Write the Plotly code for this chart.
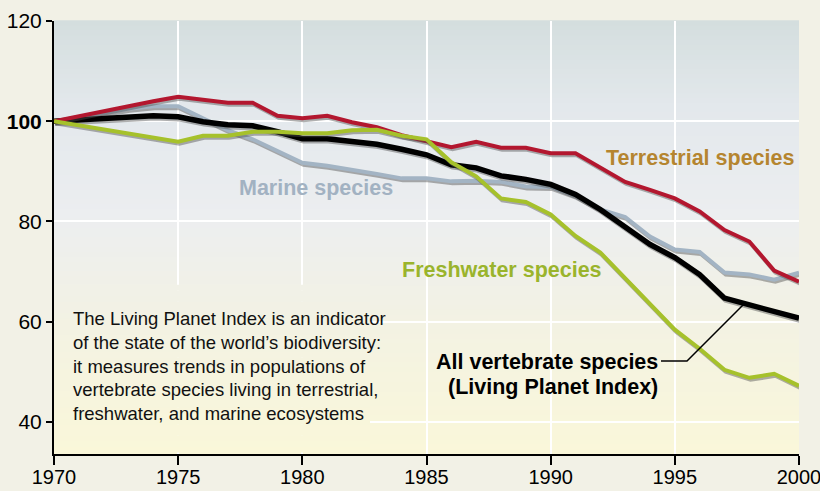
import plotly.graph_objects as go

years = list(range(1970, 2001))
terrestrial = [100, 101, 102, 103.2, 104, 104.9, 104.3, 103.7, 103.7, 101.1, 100.6, 101.1, 99.8, 98.8,
               97.2, 96.1, 94.8, 95.9, 94.7, 94.7, 93.6, 93.6, 90.7, 87.9, 86.3, 84.6, 82, 78.3, 76, 70.2, 68]
marine = [100, 100.8, 101.6, 102.5, 103, 103, 100.6, 98.2, 96.4, 94, 91.7, 91.1, 90.4, 89.5, 88.6,
          88.6, 88, 88.1, 87.9, 87, 86.9, 85.1, 82.4, 80.9, 77, 74.4, 73.9, 69.8, 69.4, 68.4, 69.8]
freshwater = [100, 99.2, 98.4, 97.5, 96.7, 95.9, 97.1, 97.1, 97.9, 97.9, 97.6, 97.6, 98.2, 98.3, 97.1,
              96.4, 91.8, 89, 84.6, 83.9, 81.4, 77.1, 73.8, 68.7, 63.5, 58.4, 54.6, 50.4, 48.8, 49.6, 47.2]
all_species = [100, 100.3, 100.5, 100.9, 101.1, 100.9, 99.9, 99.3, 99.1, 97.9, 96.5, 96.5, 95.9, 95.4,
               94.4, 93.3, 91.3, 90.7, 89.1, 88.4, 87.4, 85.4, 82.4, 79, 75.4, 72.8, 69.4, 64.7, 63.4, 62, 60.7]

x_ticks = [1970, 1975, 1980, 1985, 1990, 1995, 2000]
y_ticks = [40, 60, 80, 100, 120]
y_ticktext = ["40", "60", "80", "<b>100</b>", "120"]

info_lines = ["The Living Planet Index is an indicator",
              "of the state of the world\u2019s biodiversity:",
              "it measures trends in populations of",
              "vertebrate species living in terrestrial,",
              "freshwater, and marine ecosystems"]

FONT = "Liberation Sans, Arial, sans-serif"

W, H = 820, 491
ML, MR, MT, MB = 54, 21, 21, 37
X0, X1 = 1970, 2000
Y0, Y1 = 33.6, 120

def hex2rgb(h):
    h = h.lstrip('#')
    return tuple(int(h[i:i+2], 16) for i in (0, 2, 4))

stops = [(0.0, '#faf7d9'), (0.3, '#f3f2e3'), (0.55, '#eceef0'), (0.8, '#e3e8ec'), (1.0, '#d4dede')]

def grad(t):
    for (a, ca), (b, cb) in zip(stops[:-1], stops[1:]):
        if a <= t <= b:
            f = (t - a) / (b - a)
            r1, g1, b1 = hex2rgb(ca)
            r2, g2, b2 = hex2rgb(cb)
            return 'rgb(%d,%d,%d)' % (round(r1 + (r2 - r1) * f), round(g1 + (g2 - g1) * f), round(b1 + (b2 - b1) * f))
    return stops[-1][1]

def ydata(py):
    ph = H - MT - MB
    return Y1 - (py - MT) / ph * (Y1 - Y0)

def xdata(px):
    pw = W - ML - MR
    return X0 + (px - ML) / pw * (X1 - X0)

shapes = []
N = 90
for i in range(N):
    t0, t1 = i / N, (i + 1) / N
    shapes.append(dict(type='rect', xref='paper', yref='paper', x0=0, x1=1, y0=t0, y1=t1 + 0.002,
                       fillcolor=grad((t0 + t1) / 2), line=dict(width=0), layer='below'))

# info box background covering the gridlines
bx0, bx1 = X0 + 0.03, xdata(370)
by0, by1 = Y0 + 0.3, ydata(285)
NB = 30
for i in range(NB):
    v0 = by0 + (by1 - by0) * i / NB
    v1 = by0 + (by1 - by0) * (i + 1) / NB
    t = ((v0 + v1) / 2 - Y0) / (Y1 - Y0)
    shapes.append(dict(type='rect', xref='x', yref='y', x0=bx0, x1=bx1, y0=v0, y1=v1 + 0.05,
                       fillcolor=grad(t), line=dict(width=0), layer='between'))

# leader line
shapes.append(dict(type='path', xref='x', yref='y',
                   path='M %f,%f L %f,%f L %f,%f' % (xdata(661), ydata(361), xdata(687), ydata(361),
                                                    xdata(743), ydata(305)),
                   line=dict(color='black', width=1.5), layer='above'))

fig = go.Figure()

series = [
    ("Marine species", marine, '#a3b4c4', 4),
    ("All vertebrate species", all_species, '#000000', 5.5),
    ("Terrestrial species", terrestrial, '#b3172f', 4),
    ("Freshwater species", freshwater, '#a6c12b', 4),
]
dx = 1.2 * (X1 - X0) / (W - ML - MR)
dy = 2.0 * (Y1 - Y0) / (H - MT - MB)
for name, vals, col, w in series:
    fig.add_trace(go.Scatter(x=[v + dx for v in years], y=[v - dy for v in vals], mode='lines',
                             line=dict(color='rgba(80,80,80,0.45)', width=w), hoverinfo='skip',
                             showlegend=False, cliponaxis=False))
    fig.add_trace(go.Scatter(x=years, y=vals, mode='lines', name=name,
                             line=dict(color=col, width=w), showlegend=False, cliponaxis=False))

LBL = 21.5
annotations = [
    dict(text="<b>Terrestrial species</b>", x=xdata(796), y=ydata(158), xanchor='right', yanchor='middle',
         font=dict(size=LBL, color='#b5852f', family=FONT), showarrow=False),
    dict(text="<b>Marine species</b>", x=xdata(316), y=ydata(188), xanchor='center', yanchor='middle',
         font=dict(size=LBL, color='#a2b2c2', family=FONT), showarrow=False),
    dict(text="<b>Freshwater species</b>", x=xdata(400), y=ydata(270), xanchor='left', yanchor='middle',
         font=dict(size=LBL, color='#9ab42c', family=FONT), showarrow=False),
    dict(text="<b>All vertebrate species</b>", x=xdata(660), y=ydata(362), xanchor='right', yanchor='middle',
         font=dict(size=LBL, color='black', family=FONT), showarrow=False),
    dict(text="<b>(Living Planet Index)</b>", x=xdata(660), y=ydata(387), xanchor='right', yanchor='middle',
         font=dict(size=LBL, color='black', family=FONT), showarrow=False),
]
line_rows = [318, 342, 366, 389, 413]
for txt, py in zip(info_lines, line_rows):
    annotations.append(dict(text=txt, x=xdata(71), y=ydata(py), xanchor='left', yanchor='middle',
                            font=dict(size=18.5, color='#111111', family=FONT), showarrow=False))

fig.update_layout(
    width=W, height=H,
    margin=dict(l=ML, r=MR, t=MT, b=MB, autoexpand=False),
    paper_bgcolor='#f2f1e6',
    plot_bgcolor='rgba(0,0,0,0)',
    shapes=shapes,
    annotations=annotations,
    font=dict(family=FONT, size=21, color='black'),
    xaxis=dict(range=[X0, X1], tickvals=x_ticks, showgrid=True, gridcolor='white', gridwidth=1.5,
               showline=True, linecolor='black', linewidth=2, ticks='outside', ticklen=4, tickwidth=2,
               tickcolor='black', zeroline=False, automargin=False, tickfont=dict(size=20, family=FONT),
               ticklabeloverflow='allow',
               minor=dict(ticks='outside', ticklen=9, tickwidth=2, tickcolor='black', tick0=1970, dtick=5,
                          showgrid=False)),
    yaxis=dict(range=[Y0, Y1], tickvals=y_ticks, ticktext=y_ticktext, showgrid=True, gridcolor='white',
               gridwidth=1.5, showline=True, linecolor='black', linewidth=2, ticks='outside', ticklen=6,
               tickwidth=2, tickcolor='black', zeroline=False, automargin=False, ticklabeloverflow='allow',
               tickfont=dict(size=21, family=FONT)),
)

fig.write_html("out.html", config={'displayModeBar': False},
               post_script="document.body.style.margin='0';document.body.style.background='#f2f1e6';")
